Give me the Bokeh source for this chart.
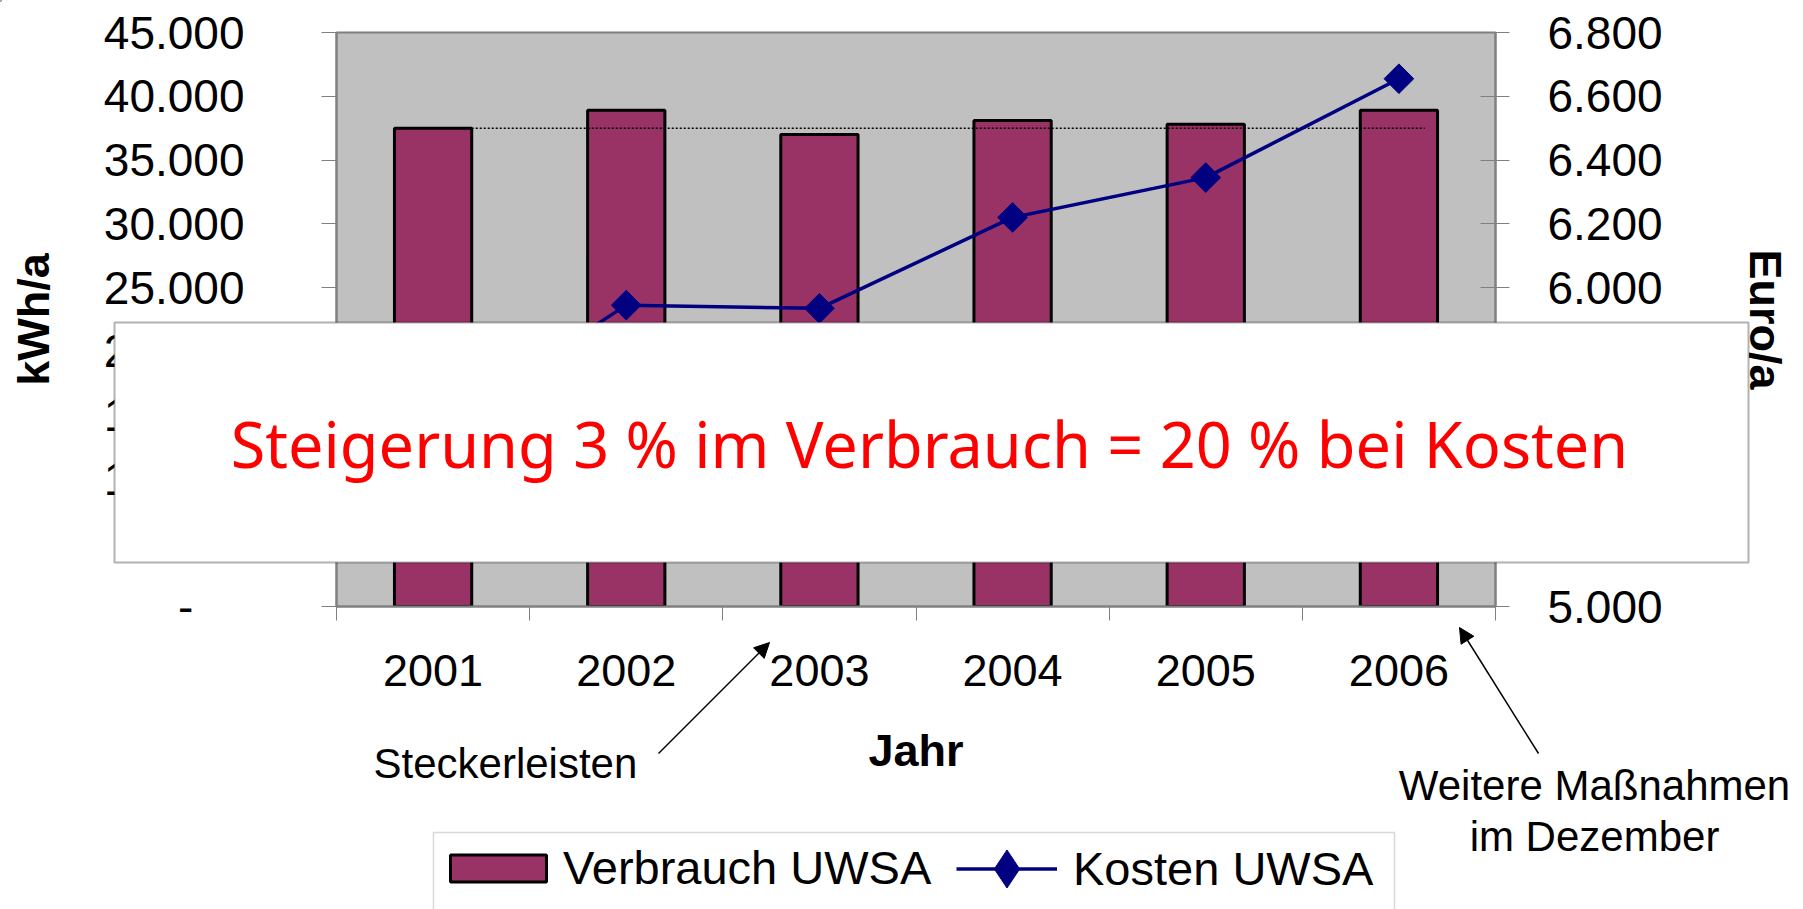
import math
from bokeh.plotting import figure
from bokeh.models import (Range1d, LinearAxis, FixedTicker, Legend, LegendItem,
                          BoxAnnotation, Label, Arrow, NormalHead)
from bokeh.embed import file_html
from bokeh.resources import INLINE

# ---- data ----
years = ["2001", "2002", "2003", "2004", "2005", "2006"]
verbrauch = [37500, 38900, 37000, 38100, 37800, 38900]      # kWh/a
kosten = [5550, 5945, 5935, 6220, 6345, 6655]               # Euro/a
left_ticks = [0, 5000, 10000, 15000, 20000, 25000, 30000, 35000, 40000, 45000]
left_tick_labels = ["-\u00a0\u00a0\u00a0\u00a0", "5.000", "10.000", "15.000", "20.000",
                    "25.000", "30.000", "35.000", "40.000", "45.000"]
right_ticks = [5000, 5200, 5400, 5600, 5800, 6000, 6200, 6400, 6600, 6800]
right_tick_labels = ["5.000", "5.200", "5.400", "5.600", "5.800",
                     "6.000", "6.200", "6.400", "6.600", "6.800"]
series_names = ["Verbrauch UWSA", "Kosten UWSA"]

W, H = 1803, 909
FONT = "Liberation Sans"
GRAY = "#808080"
BAR_COLOR = "#993366"
LINE_COLOR = "#000080"
BAR_W = 0.4
x = [i + 0.5 for i in range(len(years))]

p = figure(width=W, height=H, x_range=Range1d(0, len(years)),
           y_range=Range1d(left_ticks[0], left_ticks[-1]),
           output_backend="svg", toolbar_location=None,
           min_border_left=336, min_border_right=308,
           min_border_top=32, min_border_bottom=303)
p.extra_y_ranges = {"euro": Range1d(right_ticks[0], right_ticks[-1])}
p.background_fill_color = "#C0C0C0"
p.border_fill_color = "white"
p.outline_line_color = GRAY
p.outline_line_width = 2
p.xgrid.visible = False
p.ygrid.visible = False

# x axis
xa = p.xaxis[0]
xa.ticker = FixedTicker(ticks=x, minor_ticks=list(range(len(years) + 1)))
xa.major_label_overrides = {xi: yr for xi, yr in zip(x, years)}
xa.major_tick_line_color = None
xa.major_tick_out = 0
xa.major_tick_in = 0
xa.minor_tick_line_color = GRAY
xa.minor_tick_out = 14
xa.minor_tick_in = 0
xa.axis_line_color = GRAY
xa.axis_line_width = 2
xa.major_label_text_font = FONT
xa.major_label_text_font_size = "45px"
xa.major_label_text_color = "black"
xa.major_label_standoff = 34
xa.axis_label = "Jahr"
xa.axis_label_text_font = FONT
xa.axis_label_text_font_size = "45px"
xa.axis_label_text_font_style = "bold"
xa.axis_label_text_color = "black"
xa.axis_label_standoff = 36

# left axis
ya = p.yaxis[0]
ya.ticker = FixedTicker(ticks=left_ticks, minor_ticks=[])
ya.major_label_overrides = dict(zip(left_ticks, left_tick_labels))
ya.major_tick_out = 15
ya.major_tick_in = 0
ya.major_tick_line_color = GRAY
ya.minor_tick_line_color = None
ya.axis_line_color = GRAY
ya.axis_line_width = 2
ya.major_label_text_font = FONT
ya.major_label_text_font_size = "46px"
ya.major_label_text_color = "black"
ya.major_label_standoff = 77
ya.axis_label = "kWh/a"
ya.axis_label_text_font = FONT
ya.axis_label_text_font_size = "45px"
ya.axis_label_text_font_style = "bold"
ya.axis_label_text_color = "black"
ya.axis_label_standoff = 42

# right axis
ra = LinearAxis(y_range_name="euro",
                ticker=FixedTicker(ticks=right_ticks, minor_ticks=[]),
                major_label_overrides=dict(zip(right_ticks, right_tick_labels)),
                major_tick_in=15, major_tick_out=14, major_tick_line_color=GRAY,
                minor_tick_line_color=None, axis_line_color=GRAY, axis_line_width=2,
                major_label_text_font=FONT, major_label_text_font_size="46px",
                major_label_text_color="black", major_label_standoff=38,
                axis_label="Euro/a", axis_label_text_font=FONT,
                axis_label_text_font_size="45px", axis_label_text_font_style="bold",
                axis_label_text_color="black", axis_label_standoff=74)
p.add_layout(ra, "right")

# glyphs
bars = p.vbar(x=x, top=verbrauch, width=BAR_W, bottom=0,
              fill_color=BAR_COLOR, line_color="black", line_width=3)
p.line(x=[x[0] + BAR_W / 2, x[-1] + BAR_W / 3], y=[verbrauch[0], verbrauch[0]],
       line_color="black", line_width=1.5, line_dash="2 2")
p.line(x=x, y=kosten, y_range_name="euro", line_color=LINE_COLOR, line_width=3.5)
p.scatter(x=x, y=kosten, y_range_name="euro", marker="square",
          angle=math.pi / 4, size=21, fill_color=LINE_COLOR, line_color=LINE_COLOR)

# ---- transparent overlay in pixel coordinates: legend, statement box and notes ----
ov = figure(width=W, height=H, x_range=Range1d(0, W), y_range=Range1d(H, 0),
            output_backend="svg", toolbar_location=None, min_border=0,
            x_axis_location=None, y_axis_location=None,
            outline_line_color=None, background_fill_alpha=0, border_fill_alpha=0,
            styles={"position": "absolute", "top": "0px", "left": "0px"})
ov.grid.visible = False

# legend swatches: proxy glyphs styled like the series, placed off-canvas
OFF = -200
bar_proxy = ov.vbar(x=[OFF], top=[OFF], bottom=[OFF - 10], width=1, fill_color=BAR_COLOR,
                    line_color="black", line_width=3)
line_proxy = ov.line(x=[OFF, OFF - 10], y=[OFF, OFF], line_color=LINE_COLOR, line_width=3.5)
mark_proxy = ov.scatter(x=[OFF], y=[OFF], marker="diamond", size=20,
                        fill_color=LINE_COLOR, line_color=LINE_COLOR)

ov.add_layout(BoxAnnotation(left=433, right=1394, top=832, bottom=960,
                            fill_color="white", fill_alpha=1,
                            line_color=GRAY, line_width=1.5))
common = dict(orientation="horizontal", margin=0, padding=0,
              border_line_color=None, background_fill_alpha=0,
              label_text_font=FONT, label_text_font_size="47px",
              label_text_color="black")
ov.add_layout(Legend(items=[LegendItem(label=series_names[0], renderers=[bar_proxy])],
                     location=(438, 14), glyph_width=120, glyph_height=34,
                     label_standoff=5, **common))
ov.add_layout(Legend(items=[LegendItem(label=series_names[1],
                                       renderers=[line_proxy, mark_proxy])],
                     location=(956, -7), glyph_width=101, glyph_height=95,
                     label_standoff=16, **common))

ov.add_layout(BoxAnnotation(left=114, right=1748, top=322, bottom=562,
                            fill_color="white", fill_alpha=1,
                            line_color="black", line_width=2))
ov.add_layout(Label(x=929, y=443, text="Steigerung 3 % im Verbrauch = 20 % bei Kosten",
                    text_align="center", text_baseline="alphabetic",
                    text_color="#FF0000", text_font="Noto Sans", text_font_size="63px"))
ov.add_layout(Arrow(x_start=658, y_start=753, x_end=769, y_end=642,
                    line_color="black", line_width=1.5,
                    end=NormalHead(size=15, fill_color="black", line_color="black")))
ov.add_layout(Arrow(x_start=1538, y_start=753, x_end=1459, y_end=627,
                    line_color="black", line_width=1.5,
                    end=NormalHead(size=15, fill_color="black", line_color="black")))
ov.add_layout(Label(x=373, y=763, text="Steckerleisten", text_align="left",
                    text_baseline="alphabetic", text_font=FONT,
                    text_font_size="42px", text_color="black"))
ov.add_layout(Label(x=1594, y=785, text="Weitere Maßnahmen", text_align="center",
                    text_baseline="alphabetic", text_font=FONT,
                    text_font_size="42px", text_color="black"))
ov.add_layout(Label(x=1594, y=836, text="im Dezember", text_align="center",
                    text_baseline="alphabetic", text_font=FONT,
                    text_font_size="42px", text_color="black"))

open("out.html", "w").write(file_html([p, ov], INLINE))
